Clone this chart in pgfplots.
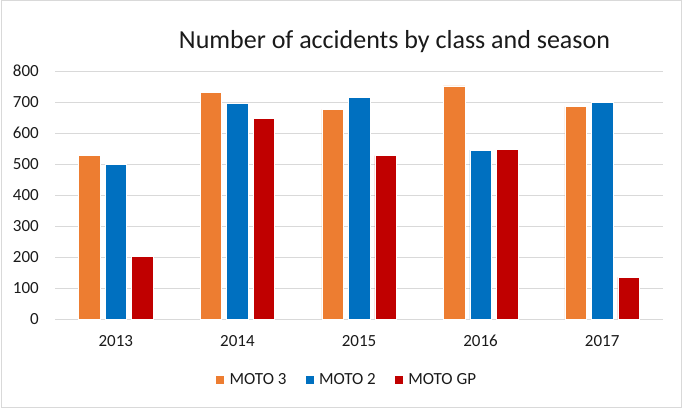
\documentclass[border=0pt]{standalone}
\usepackage{pgfplots}
\pgfplotsset{compat=1.18}
\usepackage{fontspec}
\setmainfont{Carlito}
\definecolor{moto3}{HTML}{ED7D31}
\definecolor{moto2}{HTML}{0070C0}
\definecolor{motogp}{HTML}{C00000}
\definecolor{gridc}{HTML}{D9D9D9}
\definecolor{txt}{HTML}{1A1A1A}
\begin{document}
\begin{tikzpicture}[x=1bp,y=1bp]
\path[use as bounding box] (0,0) rectangle (685,408);
\draw[gridc, line width=1bp] (1,1) rectangle (681,407);
\node[anchor=base, font=\fontsize{26bp}{31bp}\selectfont, text=txt, inner sep=0pt] at (394.5,360) {Number of accidents by class and season};
\begin{axis}[
  at={(55bp,89bp)}, anchor=south west,
  scale only axis, width=608bp, height=248bp,
  ybar=5bp, bar width=21.5bp,
  xmin=-0.5, xmax=4.5, ymin=0, ymax=800,
  xtick={0,1,2,3,4}, xticklabels={2013,2014,2015,2016,2017},
  ytick={0,100,...,800},
  ymajorgrids, grid style={gridc, line width=1bp},
  axis x line*=bottom, axis y line*=left,
  y axis line style={draw=none},
  x axis line style={gridc, line width=1bp, -},
  major tick length=0pt,
  tick label style={font=\fontsize{17bp}{20bp}\selectfont, text=txt, inner sep=0pt},
  /pgf/number format/assume math mode=true,
  xticklabel shift=16bp, yticklabel shift=16bp,
  legend columns=3,
  legend style={at={(0.478,-0.246)}, anchor=center, draw=none, fill=none, inner sep=0pt,
    font=\fontsize{17bp}{20bp}\selectfont, text=txt, nodes={inner sep=0pt},
    /tikz/every odd column/.style={column sep=5bp},
    /tikz/every even column/.style={column sep=18bp}},
  legend image code/.code={\fill[#1] (0bp,-4.5bp) rectangle (9bp,4.5bp);},
]
\addplot[fill=moto3, draw=white, line width=0.5bp] coordinates {(0,527) (1,731) (2,676) (3,752) (4,685)};
\addlegendentry{MOTO 3}
\addplot[fill=moto2, draw=white, line width=0.5bp] coordinates {(0,500) (1,695) (2,715) (3,545) (4,698)};
\addlegendentry{MOTO 2}
\addplot[fill=motogp, draw=white, line width=0.5bp] coordinates {(0,203) (1,646) (2,527) (3,548) (4,134)};
\addlegendentry{MOTO GP}
\end{axis}
\end{tikzpicture}
\end{document}
